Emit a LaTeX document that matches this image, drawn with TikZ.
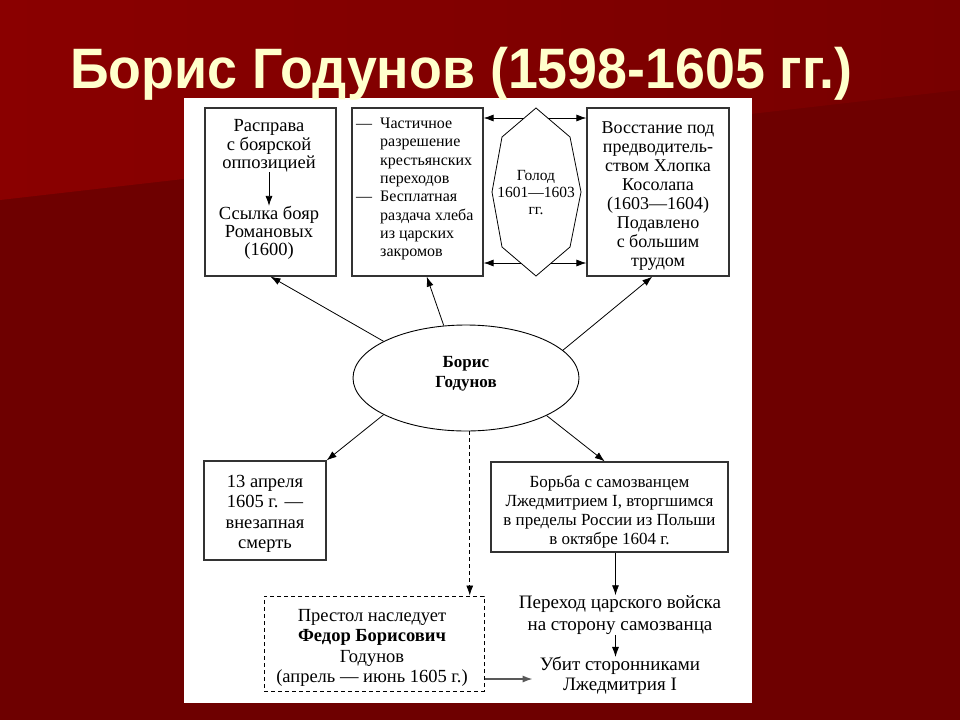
\documentclass[tikz,border=0pt]{standalone}
\usepackage{fontspec}
\setmainfont{Liberation Serif}
\newfontfamily\titlefont{Liberation Sans}
\usetikzlibrary{arrows.meta,calc,shapes.geometric}
\definecolor{bgdark}{HTML}{6E0000}
\definecolor{bglight}{HTML}{8A0000}
\definecolor{bgmid}{HTML}{780000}
\definecolor{titlecol}{HTML}{FFFFCC}
\begin{document}
\begin{tikzpicture}[x=1pt,y=-1pt,
  box/.style={draw=black!80,line width=1.2pt,inner sep=0pt},
  txt/.style={inner sep=0pt,align=center},
  arr/.style={-{Latex[length=10pt,width=7pt]},line width=0.8pt},
  dashbox/.style={draw=black,line width=1pt,dash pattern=on 4pt off 3pt,inner sep=0pt},
]
\useasboundingbox (0,0) rectangle (960,720);
\fill[bgdark] (0,0) rectangle (960,720);
\shade[left color=bglight,right color=bgmid] (0,0) -- (960,0) -- (960,90) -- (0,200) -- cycle;
\fill[white] (184,98) rectangle (752,703);

\node[anchor=base west,inner sep=0pt,text=titlecol] (title) at (70,88)
  {\resizebox{782pt}{\height}{\titlefont\bfseries\fontsize{57}{60}\selectfont Борис Годунов (1598-1605 гг.)}};

% top row
\node[box,minimum width=131pt,minimum height=168pt] (b1) at (270.5,192) {};
\node[txt,font=\fontsize{18.5}{18.3}\selectfont] (b1a) at (269,146) {Расправа\\с боярской\\оппозицией};
\node[txt,font=\fontsize{18.5}{18.3}\selectfont] (b1b) at (269,233) {Ссылка бояр\\Романовых\\(1600)};
\draw[arr] (b1a.south) -- (b1b.north);

\node[box,minimum width=131pt,minimum height=168pt] (b2) at (417.5,192) {};
\node[inner sep=0pt,anchor=west,font=\fontsize{16}{18.3}\selectfont] (b2t) at (356,189)
  {\begin{tabular}{@{}l@{\hspace{8pt}}l@{}}
   —& Частичное\\ & разрешение\\ & крестьянских\\ & переходов\\
   —& Бесплатная\\ & раздача хлеба\\ & из царских\\ & закромов
   \end{tabular}};

\node[txt,font=\fontsize{15.5}{17}\selectfont] (oct) at (536,193) {Голод\\1601—1603\\гг.};
\draw[line width=0.8pt] ($(oct)+(0,-85)$) -- ($(oct)+(34,-56)$) -- ($(oct)+(45,-1)$)
  -- ($(oct)+(34,54)$) -- ($(oct)+(0,83)$) -- ($(oct)+(-34,54)$) -- ($(oct)+(-44,-1)$)
  -- ($(oct)+(-34,-56)$) -- cycle;
\coordinate (oTL) at ($(oct)+(-12,-75)$);
\coordinate (oTR) at ($(oct)+(12,-75)$);
\coordinate (oBL) at ($(oct)+(-15,70)$);
\coordinate (oBR) at ($(oct)+(15,70)$);

\node[box,minimum width=142pt,minimum height=168pt] (b3) at (658,192) {};
\node[txt,font=\fontsize{18}{19}\selectfont] (b3t) at (658,196)
  {Восстание под\\предводитель-\\ством Хлопка\\Косолапа\\(1603—1604)\\Подавлено\\с большим\\трудом};

\draw[arr] (oTL) -- (oTL -| b2.east);
\draw[arr] (oBL) -- (oBL -| b2.east);
\draw[arr] (oTR) -- (oTR -| b3.west);
\draw[arr] (oBR) -- (oBR -| b3.west);

% centre
\node[ellipse,draw,line width=0.9pt,minimum width=226pt,minimum height=106pt,inner sep=0pt] (e) at (466,378) {};
\node[txt,font=\bfseries\fontsize{17}{20}\selectfont] (et) at (466,374) {Борис\\Годунов};

\draw[arr] (e.156) -- (b1.south);
\draw[arr] (e.113) -- ($(b2.south west)!0.57!(b2.south east)$);
\draw[arr] (e.16) -- ($(b3.south west)!0.46!(b3.south east)$);

% bottom row
\node[box,minimum width=122pt,minimum height=99pt] (b4) at (265,510.5) {};
\node[txt,font=\fontsize{18.5}{20.5}\selectfont] (b4t) at (265,514) {13 апреля\\1605 г. —\\внезапная\\смерть};

\node[box,minimum width=237pt,minimum height=90pt] (b5) at (609.5,507) {};
\node[txt,font=\fontsize{17}{19}\selectfont] (b5t) at (609.5,512)
  {Борьба с самозванцем\\Лжедмитрием I, вторгшимся\\в пределы России из Польши\\в октябре 1604 г.};

\draw[arr] (e.204) -- (b4.north east);
\draw[arr] (e.335) -- ($(b5.north west)!0.48!(b5.north east)$);

\node[txt,font=\fontsize{19}{22}\selectfont] (p) at (620,615) {Переход царского войска\\на сторону самозванца};
\node[txt,inner xsep=7pt,inner ysep=0pt,font=\fontsize{19}{20}\selectfont] (u) at (620,676) {Убит сторонниками\\Лжедмитрия I};

\coordinate (c5) at ($(b5.south)+(6,0)$);
\draw[arr] (c5) -- (c5 |- p.north);
\draw[arr] (p.south -| c5) -- (u.north -| c5);

\node[dashbox,minimum width=220pt,minimum height=95pt] (fb) at (374,643.5) {};
\node[txt,font=\fontsize{18.5}{20.5}\selectfont] (fbt) at (372,648)
  {Престол наследует\\\textbf{Федор Борисович}\\Годунов\\(апрель — июнь 1605 г.)};

\draw[arr,dash pattern=on 4pt off 3pt] (e.274) -- (e.274 |- fb.north);
\coordinate (h1) at ($(fb.east)+(0,35.5)$);
\draw[arr,draw=black!65,fill=black,line width=1.6pt] (h1) -- (h1 -| u.west);
\end{tikzpicture}
\end{document}
